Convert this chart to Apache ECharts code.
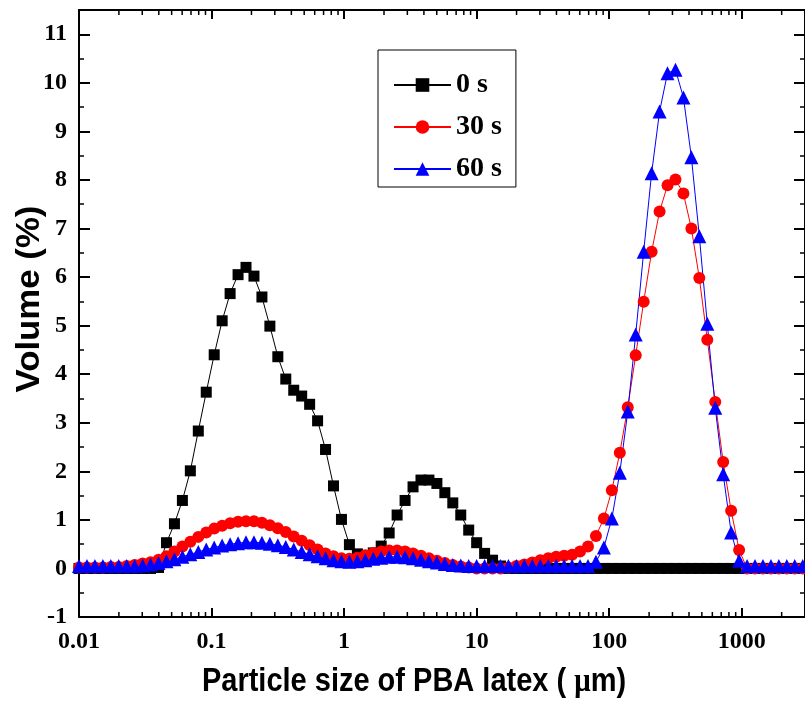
<!DOCTYPE html>
<html>
<head>
<meta charset="utf-8">
<script src="https://cdn.jsdelivr.net/npm/echarts@6/dist/echarts.min.js"></script>
<style>
  html, body { margin: 0; padding: 0; background: #fff; }
  #chart { width: 805px; height: 702px; }
</style>
</head>
<body>
<div id="chart"></div>
<script>
// Particle size classes (µm), logarithmic bins of the laser-diffraction analyser
const sizes = [
  0.010, 0.011482, 0.013183, 0.015136, 0.017378, 0.019953, 0.022909, 0.026303, 0.030200, 0.034674,
  0.039811, 0.045709, 0.052481, 0.060256, 0.069183, 0.079433, 0.091201, 0.104713, 0.120226, 0.138038,
  0.158489, 0.181970, 0.208930, 0.239883, 0.275423, 0.316228, 0.363078, 0.416869, 0.478630, 0.549541,
  0.630957, 0.724436, 0.831764, 0.954993, 1.096478, 1.258925, 1.445440, 1.659587, 1.905461, 2.187762,
  2.511886, 2.884032, 3.311311, 3.801894, 4.365158, 5.011872, 5.754399, 6.606934, 7.585776, 8.709636,
  10.0, 11.48154, 13.18257, 15.13561, 17.37801, 19.95262, 22.90868, 26.30268, 30.19952, 34.67369,
  39.81072, 45.70882, 52.48075, 60.25596, 69.18310, 79.43282, 91.20108, 104.7129, 120.2264, 138.0384,
  158.4893, 181.9701, 208.9296, 239.8833, 275.4229, 316.2278, 363.0781, 416.8694, 478.6301, 549.5409,
  630.9573, 724.4360, 831.7638, 954.9926, 1096.478, 1258.925, 1445.440, 1659.587, 1905.461, 2187.762,
  2511.886, 2884.032
];

// Volume fraction (%) after 0 s
const vol0s = [
  0, 0, 0, 0, 0, 0, 0, 0, 0, 0,
  0.02, 0.53, 0.92, 1.40, 2.01, 2.83, 3.63, 4.40, 5.10, 5.66,
  6.05, 6.20, 6.02, 5.59, 4.99, 4.36, 3.90, 3.67, 3.55, 3.38,
  3.04, 2.45, 1.70, 1.01, 0.49, 0.30, 0.25, 0.32, 0.46, 0.73,
  1.10, 1.40, 1.68, 1.82, 1.82, 1.75, 1.56, 1.35, 1.10, 0.79,
  0.53, 0.31, 0.17, 0.05, 0, 0, 0, 0, 0, 0,
  0, 0, 0, 0, 0, 0, 0, 0, 0, 0,
  0, 0, 0, 0, 0, 0, 0, 0, 0, 0,
  0, 0, 0, 0, 0, 0, 0, 0, 0, 0,
  0, 0
];

// Volume fraction (%) after 30 s
const vol30s = [
  0.02, 0.02, 0.02, 0.02, 0.03, 0.03, 0.05, 0.07, 0.10, 0.13,
  0.18, 0.25, 0.35, 0.45, 0.55, 0.65, 0.74, 0.82, 0.88, 0.93,
  0.96, 0.97, 0.97, 0.94, 0.89, 0.83, 0.75, 0.66, 0.57, 0.48,
  0.39, 0.31, 0.25, 0.21, 0.20, 0.22, 0.27, 0.32, 0.35, 0.37,
  0.37, 0.35, 0.31, 0.26, 0.21, 0.16, 0.11, 0.07, 0.04, 0.02,
  0, 0, 0, 0, 0.02, 0.05, 0.08, 0.12, 0.17, 0.21,
  0.24, 0.26, 0.28, 0.35, 0.45, 0.67, 1.03, 1.61, 2.38, 3.32,
  4.39, 5.49, 6.52, 7.35, 7.89, 8.01, 7.72, 7.00, 5.98, 4.71,
  3.43, 2.19, 1.19, 0.38, 0, 0, 0, 0, 0, 0,
  0, 0
];

// Volume fraction (%) after 60 s
const vol60s = [
  0.05, 0.05, 0.05, 0.05, 0.05, 0.05, 0.05, 0.05, 0.06, 0.08,
  0.11, 0.15, 0.19, 0.24, 0.29, 0.34, 0.39, 0.43, 0.47, 0.50,
  0.52, 0.54, 0.54, 0.53, 0.51, 0.48, 0.44, 0.39, 0.34, 0.29,
  0.25, 0.21, 0.17, 0.15, 0.14, 0.15, 0.17, 0.20, 0.22, 0.24,
  0.24, 0.23, 0.21, 0.18, 0.15, 0.12, 0.09, 0.07, 0.06, 0.05,
  0.05, 0.05, 0.05, 0.05, 0.05, 0.05, 0.05, 0.05, 0.05, 0.05,
  0.05, 0.05, 0.05, 0.05, 0.05, 0.14, 0.43, 1.03, 1.97, 3.23,
  4.82, 6.52, 8.14, 9.41, 10.20, 10.27, 9.70, 8.47, 6.84, 5.04,
  3.31, 1.94, 0.74, 0.16, 0.05, 0.05, 0.05, 0.05, 0.05, 0.05,
  0.05, 0.05
];

const seriesNames = ['0 s', '30 s', '60 s'];
const xTickLabels = ['0.01', '0.1', '1', '10', '100', '1000'];
const yTickLabels = ['-1', '0', '1', '2', '3', '4', '5', '6', '7', '8', '9', '10', '11'];

// Minor log ticks (2..9 in each decade) for the bottom and top axes
const minorXTicks = [];
for (let e = -2; e <= 3; e++) {
  for (let m = 2; m <= 9; m++) {
    const v = m * Math.pow(10, e);
    if (v < 3000) minorXTicks.push(+v.toPrecision(3));
  }
}

const X_MIN = 0.01, X_MAX = 3000, Y_MIN = -1, Y_MAX = 11.5;
const serifBold = { fontFamily: '"Liberation Serif", "Times New Roman", serif', fontWeight: 'bold' };

function pairs(values) {
  return sizes.map((s, i) => [s, values[i]]);
}

const chart = echarts.init(document.getElementById('chart'), null, { renderer: 'canvas' });

const xAxisBase = {
  type: 'log',
  logBase: 10,
  min: X_MIN,
  max: X_MAX,
  splitLine: { show: false },
  axisLine: { show: true, onZero: false, lineStyle: { color: '#000', width: 2 } },
  axisTick: { show: true, inside: true, length: 9, lineStyle: { color: '#000', width: 2 } }
};
const yAxisBase = {
  type: 'value',
  min: Y_MIN,
  max: Y_MAX,
  interval: 1,
  splitLine: { show: false },
  axisLine: { show: true, onZero: false, lineStyle: { color: '#000', width: 2 } },
  axisTick: { show: true, inside: true, length: 11, lineStyle: { color: '#000', width: 2 } },
  minorTick: { show: true, splitNumber: 2, length: 5, lineStyle: { color: '#000', width: 1.5 } }
};

const option = {
  backgroundColor: '#fff',
  animation: false,
  grid: { left: 79, top: 10, width: 733, height: 607, containLabel: false },
  xAxis: [
    Object.assign({}, xAxisBase, {
      position: 'bottom',
      axisLabel: {
        show: true, margin: 13, color: '#000', fontSize: 24, ...serifBold,
        showMaxLabel: false,
        formatter: v => {
          const s = String(+(+v).toPrecision(3));
          return xTickLabels.indexOf(s) >= 0 ? s : '';
        }
      }
    }),
    Object.assign({}, xAxisBase, { position: 'top', axisLabel: { show: false } })
  ],
  yAxis: [
    Object.assign({}, yAxisBase, {
      position: 'left',
      axisLabel: {
        show: true, margin: 12, color: '#000', fontSize: 24, ...serifBold,
        showMaxLabel: false,
        formatter: v => {
          const s = String(v);
          return yTickLabels.indexOf(s) >= 0 ? s : '';
        }
      }
    }),
    Object.assign({}, yAxisBase, { position: 'right', axisLabel: { show: false } })
  ],
  legend: {
    data: seriesNames,
    orient: 'vertical',
    left: 378,
    top: 50,
    padding: [21, 14, 4, 15],
    itemGap: 14,
    itemWidth: 57,
    itemHeight: 17,
    borderColor: '#000',
    borderWidth: 1,
    backgroundColor: '#fff',
    textStyle: { color: '#000', fontSize: 28, ...serifBold }
  },
  graphic: [
    {
      type: 'text',
      x: 30, y: 299,
      rotation: Math.PI / 2,
      scaleX: 1.2, scaleY: 1.15,
      style: {
        text: 'Volume (%)',
        font: 'bold 29px "Liberation Sans", Arial, sans-serif',
        fill: '#000',
        align: 'center',
        verticalAlign: 'middle'
      }
    },
    {
      type: 'text',
      x: 414, y: 682,
      scaleY: 1.15,
      style: {
        text: 'Particle size of PBA latex ( {mu|μ}m)',
        font: 'bold 29px "Liberation Sans", Arial, sans-serif',
        fill: '#000',
        align: 'center',
        verticalAlign: 'middle',
        rich: {
          mu: { font: 'bold 29px "Liberation Serif", "Times New Roman", serif', fill: '#000' }
        }
      }
    }
  ],
  series: [
    {
      name: '0 s', type: 'line', data: pairs(vol0s),
      symbol: 'rect', symbolSize: 11,
      itemStyle: { color: '#000' },
      lineStyle: { color: '#000', width: 1 },
      clip: false
    },
    {
      name: '30 s', type: 'line', data: pairs(vol30s),
      symbol: 'circle', symbolSize: 12,
      itemStyle: { color: '#ff0000' },
      lineStyle: { color: '#ff0000', width: 1 },
      clip: false
    },
    {
      name: '60 s', type: 'line', data: pairs(vol60s),
      symbol: 'triangle', symbolSize: 14,
      itemStyle: { color: '#0000ff' },
      lineStyle: { color: '#0000ff', width: 1 },
      clip: false
    },
    {
      name: 'minorTicks', type: 'custom',
      silent: true, clip: false, z: 5,
      data: minorXTicks.map(v => [v, 0]),
      encode: { x: 0, y: 1 },
      renderItem: (params, api) => {
        const cs = params.coordSys;
        const x = api.coord([api.value(0), 0])[0];
        const top = cs.y, bottom = cs.y + cs.height, len = 5;
        return {
          type: 'group',
          children: [
            { type: 'line', shape: { x1: x, y1: bottom, x2: x, y2: bottom - len }, style: { stroke: '#000', lineWidth: 1.5 } },
            { type: 'line', shape: { x1: x, y1: top, x2: x, y2: top + len }, style: { stroke: '#000', lineWidth: 1.5 } }
          ]
        };
      }
    }
  ]
};

chart.setOption(option);
</script>
</body>
</html>
